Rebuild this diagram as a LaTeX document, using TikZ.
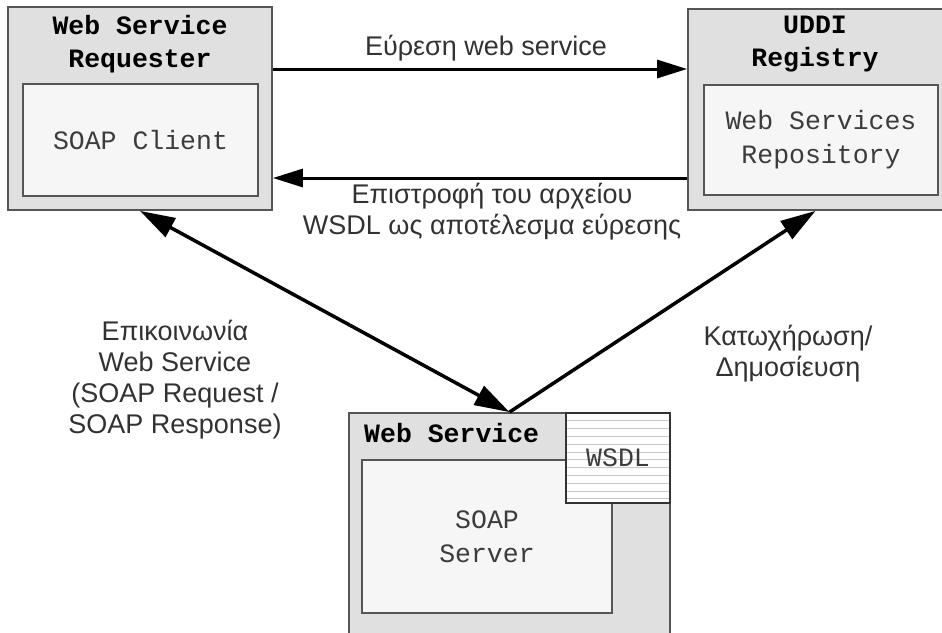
\documentclass[tikz,border=0pt]{standalone}
\usepackage{fontspec}
\setmainfont{Liberation Sans}
\newfontfamily\monof{Liberation Mono}
\usetikzlibrary{arrows.meta}
\definecolor{boxgray}{RGB}{224,224,224}
\definecolor{innerfill}{RGB}{246,246,246}
\definecolor{edgegray}{RGB}{85,85,85}
\definecolor{txtgray}{RGB}{50,50,50}
\definecolor{monogray}{RGB}{60,60,60}
\definecolor{stripe}{RGB}{200,200,200}
\begin{document}
\begin{tikzpicture}[x=1pt,y=-1pt,
  outerbox/.style={draw=edgegray, line width=1.8pt, fill=boxgray, inner sep=0pt},
  innerbox/.style={draw=edgegray, line width=1.5pt, fill=innerfill, inner sep=0pt,
    align=center, text=monogray, font={\monof\fontsize{26.5}{34}\selectfont}},
  titletext/.style={align=center, inner sep=0pt, text=black,
    font={\monof\bfseries\fontsize{26.5}{33}\selectfont}},
  lbl/.style={align=center, inner sep=0pt, text=txtgray,
    font={\fontsize{27}{31}\selectfont}},
  wsdlbox/.style={draw=black!80, line width=1.4pt, fill=white, inner sep=0pt,
    text=monogray, font={\monof\fontsize{26.5}{34}\selectfont},
    path picture={\foreach \k in {1,...,11}
      \draw[stripe, line width=0.8pt] ([yshift=-\k*7.8pt]path picture bounding box.north west)
        -- ([yshift=-\k*7.8pt]path picture bounding box.north east);}},
  hconn/.style={draw=black, line width=3pt},
  dconn/.style={draw=black, line width=3.5pt},
]
\useasboundingbox (0,0) rectangle (942,632);
\clip (0,0) rectangle (942,632);

% Left box: Web Service Requester
\node[outerbox, minimum width=264pt, minimum height=203pt] (L) at (140,108.5) {};
\node[innerbox, minimum width=235pt, minimum height=112pt] (Lin) at (140.5,140) {SOAP Client};
\node[titletext] (Lt) at (140,44) {Web Service\\Requester};

% Right box: UDDI Registry
\node[outerbox, minimum width=255pt, minimum height=201pt] (R) at (815.5,109.5) {};
\node[innerbox, minimum width=234pt, minimum height=110pt] (Rin) at (821,140) {Web Services\\Repository};
\node[titletext] (Rt) at (815,44.5) {UDDI\\Registry};

% Bottom box: Web Service
\node[outerbox, minimum width=321pt, minimum height=237pt] (B) at (509.5,531.5) {};
\node[innerbox, minimum width=250pt, minimum height=153pt] (Bin) at (487,536.5) {SOAP\\Server};
\node[wsdlbox, minimum width=104pt, minimum height=90pt] (W) at (618,458) {WSDL};
\node[titletext, anchor=west] (Bt) at (364,433) {Web Service};

% Horizontal connectors
\draw[hconn, -{Triangle[length=30pt,width=18pt]}] (L.east |- 0,69) -- (R.west |- 0,69);
\draw[hconn, -{Triangle[length=30pt,width=18pt]}] (R.west |- 0,178) -- (L.east |- 0,178);
\node[lbl] (t1) at (486,48) {Εύρεση web service};
\node[lbl] (t2) at (492,212) {Επιστροφή του αρχείου\\WSDL ως αποτέλεσμα εύρεσης};

% Diagonal connectors
\draw[dconn, {Triangle[length=35pt,width=21pt]}-{Triangle[length=35pt,width=21pt]}] (L.south) -- (B.north);
\draw[dconn, -{Triangle[length=35pt,width=21pt]}] (B.north) -- (R.south);
\node[lbl] (t3) at (175,380) {Επικοινωνία\\Web Service\\(SOAP Request /\\SOAP Response)};
\node[lbl] (t4) at (788,353.5) {Κατωχήρωση/\\Δημοσίευση};
\end{tikzpicture}
\end{document}
